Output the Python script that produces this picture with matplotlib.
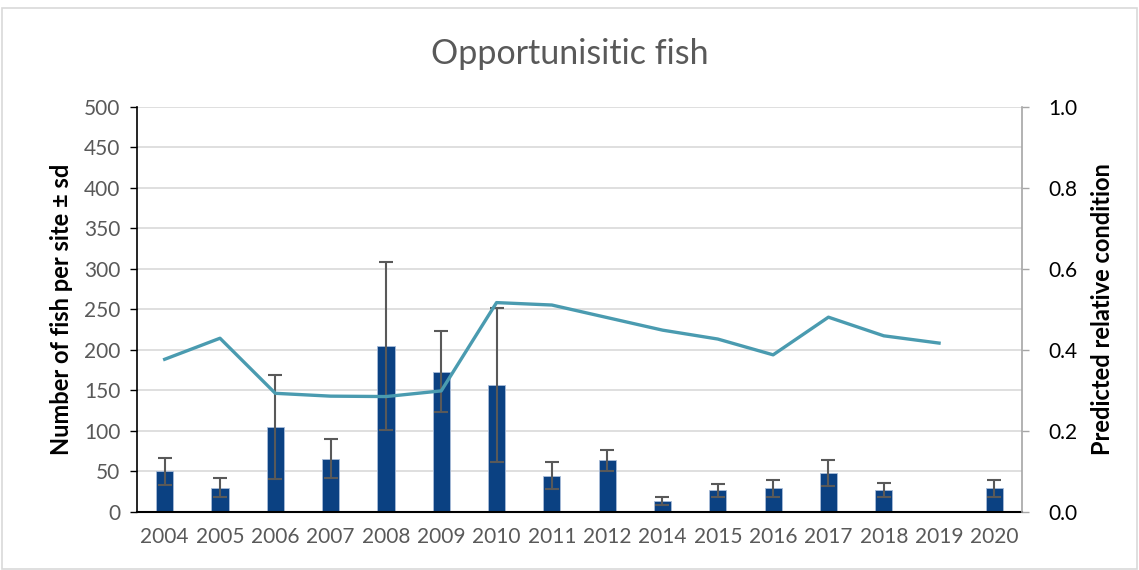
import numpy as np
import matplotlib
matplotlib.use("Agg")
import matplotlib.pyplot as plt
from matplotlib.patches import Rectangle

plt.rcParams['font.family'] = ['Lato', 'DejaVu Sans']

# data
years = ['2004', '2005', '2006', '2007', '2008', '2009', '2010', '2011',
         '2012', '2014', '2015', '2016', '2017', '2018', '2019', '2020']
fish_mean = [50, 30, 105, 66, 205, 173, 157, 45, 64, 13, 27, 29, 48, 27, np.nan, 29]
fish_sd = [17, 12, 64, 24, 104, 50, 95, 17, 13, 5, 8, 10, 16, 9, np.nan, 10]
condition = [0.377, 0.429, 0.293, 0.286, 0.285, 0.299, 0.517, 0.511,
             0.480, 0.449, 0.427, 0.388, 0.481, 0.435, 0.417, np.nan]

bar_color = '#0B4182'
line_color = '#4A9BB0'
grey_text = '#595959'

fig = plt.figure(figsize=(11.39, 5.70), dpi=100)
fig.patches.append(Rectangle((0.002, 0.002), 0.996, 0.984, transform=fig.transFigure,
                             fill=False, edgecolor='#D9D9D9', linewidth=1.2))

ax = fig.add_axes([0.1203, 0.1018, 0.777, 0.7105])
x = np.arange(len(years))

ax.bar(x, fish_mean, width=0.31, color=bar_color, edgecolor='#A9BCD8', linewidth=0.6, zorder=2)
ax.errorbar(x, fish_mean, yerr=fish_sd, fmt='none', ecolor=grey_text,
            elinewidth=1.5, capsize=5, capthick=1.5, zorder=3)

ax.set_xlim(-0.5, len(years) - 0.5)
ax.set_ylim(0, 500)
ax.set_yticks(np.arange(0, 501, 50))
ax.yaxis.grid(True, color='#D9D9D9', linewidth=1.2, zorder=0)
ax.set_axisbelow(True)
ax.set_xticks(x)
ax.set_xticklabels(years)
ax.tick_params(axis='x', length=0, pad=11, labelsize=15, labelcolor=grey_text)
ax.tick_params(axis='y', length=5, width=1, labelsize=15, labelcolor=grey_text, pad=7)
for s in ['top', 'right']:
    ax.spines[s].set_visible(False)
ax.spines['left'].set_color('black')
ax.spines['bottom'].set_color('black')
ax.spines['left'].set_linewidth(1.2)
ax.spines['bottom'].set_linewidth(1.5)
ax.set_ylabel('Number of fish per site \u00b1 sd', fontsize=17, fontweight='bold', labelpad=8)

ax2 = ax.twinx()
ax2.plot(x, condition, color=line_color, linewidth=2.4, zorder=4)
ax2.set_ylim(0, 1.0)
ax2.set_yticks(np.arange(0, 1.01, 0.2))
ax2.set_yticklabels([f'{v:.1f}' for v in np.arange(0, 1.01, 0.2)])
ax2.tick_params(axis='y', length=5, width=1, color='#A6A6A6', labelsize=15, labelcolor='black', pad=14)
for s in ['top', 'left', 'bottom']:
    ax2.spines[s].set_visible(False)
ax2.spines['right'].set_color('#A6A6A6')
ax2.spines['right'].set_linewidth(1.2)
ax2.set_ylabel('Predicted relative condition', fontsize=17, fontweight='bold', labelpad=10)

fig.text(0.5, 0.905, 'Opportunisitic fish', ha='center', va='center',
         fontsize=24.5, color=grey_text, fontweight='normal')

fig.savefig('out.png', dpi=100)
